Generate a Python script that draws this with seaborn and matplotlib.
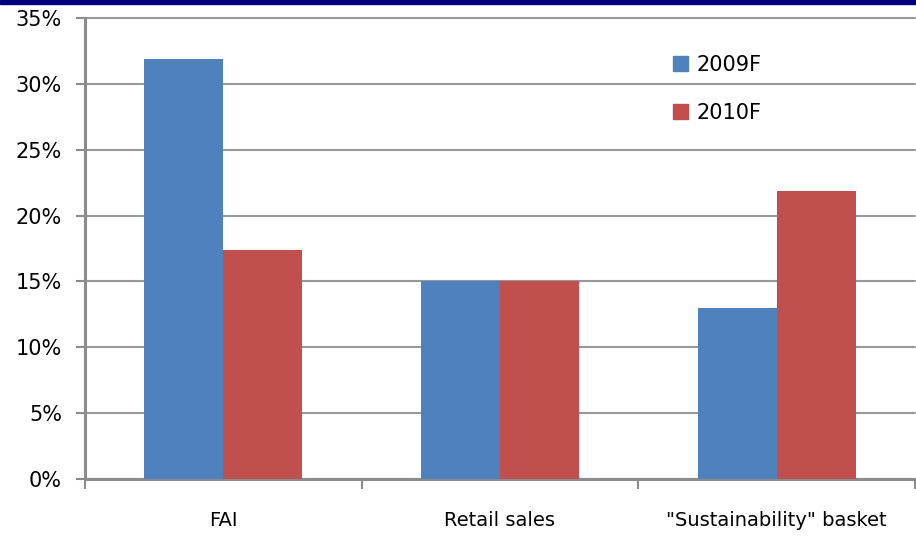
import matplotlib
matplotlib.use("Agg")
import matplotlib.pyplot as plt
import matplotlib.patches as mpatches
import seaborn as sns
import pandas as pd

categories = ["FAI", "Retail sales", "\"Sustainability\" basket"]
series_names = ["2009F", "2010F"]
values_2009 = [31.9, 15.0, 13.0]
values_2010 = [17.4, 15.0, 21.9]
y_ticks = [0, 5, 10, 15, 20, 25, 30, 35]
colors = ["#4F81BD", "#C0504D"]

df = pd.DataFrame({
    "category": categories * 2,
    "series": [series_names[0]] * 3 + [series_names[1]] * 3,
    "value": values_2009 + values_2010,
})

sns.set_style("white")
plt.rcParams["font.family"] = ["DejaVu Sans"]
plt.rcParams["text.color"] = "black"
plt.rcParams["xtick.labelcolor"] = "black"
plt.rcParams["ytick.labelcolor"] = "black"

fig = plt.figure(figsize=(9.16, 5.36), dpi=100)
ax = fig.add_axes([85 / 916, 1 - 479 / 536, 830 / 916, 461 / 536])

sns.barplot(data=df, x="category", y="value", hue="series", order=categories,
            hue_order=series_names, palette=colors, width=0.57, saturation=1,
            edgecolor="none", linewidth=0, ax=ax, zorder=3)

ax.set_xlim(-0.5, 2.5)
ax.set_ylim(0, 35)
ax.set_yticks(y_ticks)
ax.set_yticklabels([f"{t}%" for t in y_ticks], fontsize=15, color="black")
ax.yaxis.grid(True, color="#989898", linewidth=1.5, zorder=0)
ax.set_axisbelow(True)
for gl in ax.get_ygridlines():
    gl.set_clip_on(False)
ax.set_xlabel("")
ax.set_ylabel("")

ax.tick_params(axis="y", which="major", length=6.5, width=1.5, color="#8c8c8c",
               left=True, pad=10, labelcolor="black")
ax.tick_params(axis="x", which="major", length=0, labelsize=14, pad=23,
               labelcolor="black")
ax.set_xticks([-0.5, 0.5, 1.5, 2.5], minor=True)
ax.tick_params(axis="x", which="minor", length=7, width=1.5, color="#8c8c8c",
               bottom=True, direction="out")

for side in ["top", "right"]:
    ax.spines[side].set_visible(False)
for side in ["left", "bottom"]:
    ax.spines[side].set_color("#8c8c8c")
    ax.spines[side].set_linewidth(2.2)

handles = [mpatches.Patch(color=c, label=n) for c, n in zip(colors, series_names)]
leg = ax.legend(handles=handles, loc="upper left", bbox_to_anchor=(588 / 830, 424 / 461),
                frameon=False, fontsize=15, handlelength=0.72, handleheight=0.72,
                handletextpad=0.4, labelspacing=1.34, borderaxespad=0, borderpad=0)
for t in leg.get_texts():
    t.set_color("black")

fig.patches.append(mpatches.Rectangle((0, 1 - 4 / 536), 1, 4 / 536,
                                      transform=fig.transFigure,
                                      color="#000080", zorder=10))

fig.savefig("out.png", dpi=100, facecolor="white")
